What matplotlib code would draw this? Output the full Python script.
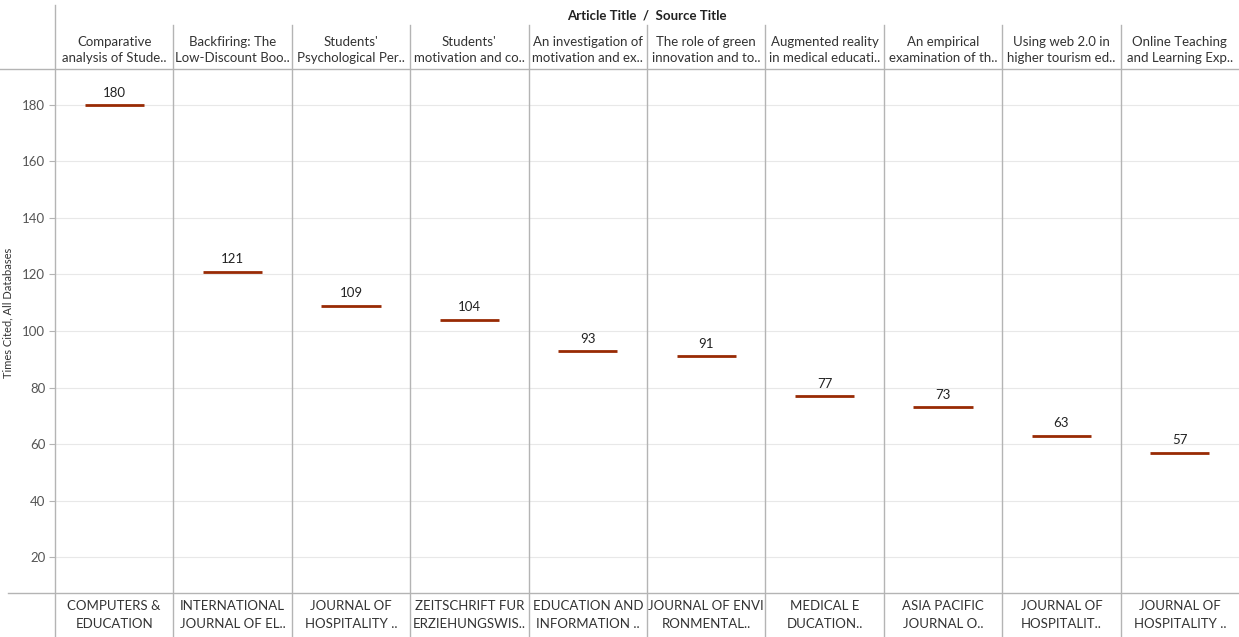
import matplotlib
matplotlib.use("Agg")
import matplotlib.pyplot as plt
from matplotlib.transforms import blended_transform_factory

article_titles = [
    "Comparative\nanalysis of Stude..",
    "Backfiring: The\nLow-Discount Boo..",
    "Students'\nPsychological Per..",
    "Students'\nmotivation and co..",
    "An investigation of\nmotivation and ex..",
    "The role of green\ninnovation and to..",
    "Augmented reality\nin medical educati..",
    "An empirical\nexamination of th..",
    "Using web 2.0 in\nhigher tourism ed..",
    "Online Teaching\nand Learning Exp..",
]
source_titles = [
    "COMPUTERS &\nEDUCATION",
    "INTERNATIONAL\nJOURNAL OF EL..",
    "JOURNAL OF\nHOSPITALITY ..",
    "ZEITSCHRIFT FUR\nERZIEHUNGSWIS..",
    "EDUCATION AND\nINFORMATION ..",
    "JOURNAL OF ENVI\nRONMENTAL..",
    "MEDICAL E\nDUCATION..",
    "ASIA PACIFIC\nJOURNAL O..",
    "JOURNAL OF\nHOSPITALIT..",
    "JOURNAL OF\nHOSPITALITY ..",
]
citations = [180, 121, 109, 104, 93, 91, 77, 73, 63, 57]
y_ticks = [20, 40, 60, 80, 100, 120, 140, 160, 180]

plt.rcParams['font.family'] = ['Lato', 'DejaVu Sans']

W, H = 1239, 637
fig = plt.figure(figsize=(W / 100, H / 100), dpi=100)
left, right, top, bottom = 55, 1239, 69, 593
ax = fig.add_axes([left / W, 1 - bottom / H, (right - left) / W, (bottom - top) / H])

n = len(citations)
ax.set_xlim(-0.5, n - 0.5)
ax.set_ylim(7.3, 192.7)

for t in y_ticks:
    ax.axhline(t, color="#e8e8e8", lw=0.8, zorder=0)

ax.hlines(citations, [i - 0.25 for i in range(n)], [i + 0.25 for i in range(n)],
          color="#982a04", lw=2, zorder=3)
for i, v in enumerate(citations):
    ax.text(i, v + 2.2, str(v), ha="center", va="bottom", fontsize=9.5, color="#222222")

ext = 44 / (bottom - top)
for k in range(1, n):
    ax.axvline(k - 0.5, ymin=-ext, ymax=1 + ext, color="#b4b4b4", lw=1, clip_on=False)

for s in ["top", "right", "bottom", "left"]:
    ax.spines[s].set_visible(False)

ax.set_xticks([])
ax.set_yticks(y_ticks)
ax.set_yticklabels([str(t) for t in y_ticks], fontsize=9.5, color="#555555")
ax.tick_params(axis="y", length=4, color="#b4b4b4", pad=3)


def fx(px):
    return px / W


def fy(py):
    return 1 - py / H


fig.add_artist(plt.Line2D([fx(55), fx(55)], [fy(5), fy(637)], color="#b4b4b4", lw=1))
fig.add_artist(plt.Line2D([0, 1], [fy(69), fy(69)], color="#b4b4b4", lw=1))
fig.add_artist(plt.Line2D([fx(8), 1], [fy(593), fy(593)], color="#b4b4b4", lw=1))

tr = blended_transform_factory(ax.transData, fig.transFigure)
for i in range(n):
    ax.text(i, fy(50), article_titles[i], transform=tr, ha="center", va="center",
            fontsize=9.5, color="#333333", linespacing=1.5)
    ax.text(i, fy(615), source_titles[i], transform=tr, ha="center", va="center",
            fontsize=9.5, color="#333333", linespacing=1.5)

fig.text(fx(647), fy(15), "Article Title  /  Source Title", ha="center", va="center",
         fontsize=9.5, fontweight="bold", color="#222222")

fig.text(fx(8), fy(313), "Times Cited, All Databases", rotation=90, ha="center",
         va="center", fontsize=8, color="#333333")

fig.savefig("out.png", dpi=100, facecolor="white")
